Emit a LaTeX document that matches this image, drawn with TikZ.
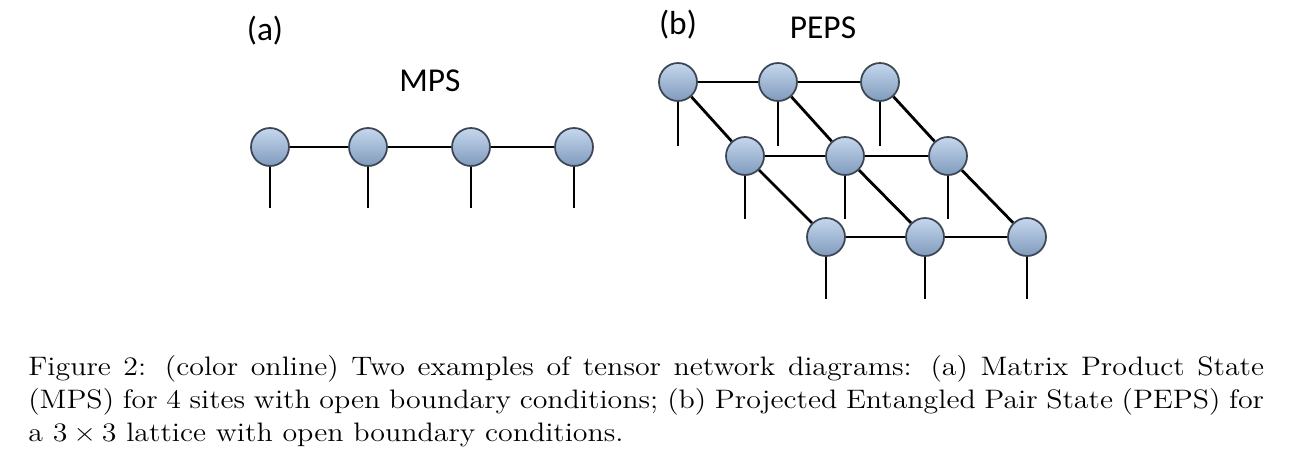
\documentclass[tikz,border=0pt]{standalone}
\usepackage{fontspec}
\newfontfamily\labelfont{Carlito}
\newfontfamily\capfont{lmroman12-regular.otf}[FakeStretch=1.12]
\usepackage{tikz}

\definecolor{sitefill}{RGB}{150,182,222}
\definecolor{siteline}{RGB}{60,70,85}

\tikzset{
    site/.style={circle, minimum size=0.76cm, inner sep=0pt, draw=siteline, line width=1pt,
        top color=sitefill!55!white, bottom color=sitefill!85!black},
    bond/.style={line width=1.6pt, black},
    leg/.style={line width=1.6pt, black},
    panel/.style={font=\labelfont\fontsize{19}{22}\selectfont, inner sep=0pt}
}

\begin{document}
\begin{tikzpicture}[x=0.02cm, y=-0.02cm]
        \useasboundingbox (0,0) rectangle (1305,471);
        % labels
        \node[panel] (lbla) at (265,31) {(a)};
        \node[panel] (lblmps) at (430,81) {MPS};
        \node[panel] (lblb) at (678,25) {(b)};
        \node[panel] (lblpeps) at (823,28) {PEPS};
        % MPS chain
        \node[site] (m1) at (270,147) {};
        \node[site] (m2) at (368,147) {};
        \node[site] (m3) at (471,147) {};
        \node[site] (m4) at (574,147) {};
        \draw[bond] (m1) -- (m2);
        \draw[bond] (m2) -- (m3);
        \draw[bond] (m3) -- (m4);
        \draw[leg] (m1.south) -- ++(0,41);
        \draw[leg] (m2.south) -- ++(0,41);
        \draw[leg] (m3.south) -- ++(0,41);
        \draw[leg] (m4.south) -- ++(0,41);
        % PEPS 3x3
        \node[site] (p11) at (678,82) {};
        \node[site] (p12) at (778,82) {};
        \node[site] (p13) at (880,82) {};
        \node[site] (p21) at (745,156) {};
        \node[site] (p22) at (845,156) {};
        \node[site] (p23) at (948,156) {};
        \node[site] (p31) at (826,237) {};
        \node[site] (p32) at (925,237) {};
        \node[site] (p33) at (1027,237) {};
        \draw[bond] (p11) -- (p12);
        \draw[bond] (p12) -- (p13);
        \draw[bond] (p21) -- (p22);
        \draw[bond] (p22) -- (p23);
        \draw[bond] (p31) -- (p32);
        \draw[bond] (p32) -- (p33);
        \draw[bond] (p11) -- (p21);
        \draw[bond] (p12) -- (p22);
        \draw[bond] (p13) -- (p23);
        \draw[bond] (p21) -- (p31);
        \draw[bond] (p22) -- (p32);
        \draw[bond] (p23) -- (p33);
        \draw[leg] (p11.south) -- ++(0,44);
        \draw[leg] (p12.south) -- ++(0,44);
        \draw[leg] (p13.south) -- ++(0,44);
        \draw[leg] (p21.south) -- ++(0,43);
        \draw[leg] (p22.south) -- ++(0,43);
        \draw[leg] (p23.south) -- ++(0,43);
        \draw[leg] (p31.south) -- ++(0,42);
        \draw[leg] (p32.south) -- ++(0,42);
        \draw[leg] (p33.south) -- ++(0,42);
        % caption
        \node[anchor=base west, inner sep=0pt, text width=24.72cm, align=justify,
            font=\capfont\fontsize{15.2pt}{19pt}\selectfont] (cap) at (28,375)
            {Figure 2: (color online) Two examples of tensor network diagrams: (a) Matrix Product State (MPS) for 4 sites with open boundary conditions; (b) Projected Entangled Pair State (PEPS) for a 3\hspace{0.22em}×\hspace{0.22em}3 lattice with open boundary conditions.};
    \end{tikzpicture}
\end{document}
